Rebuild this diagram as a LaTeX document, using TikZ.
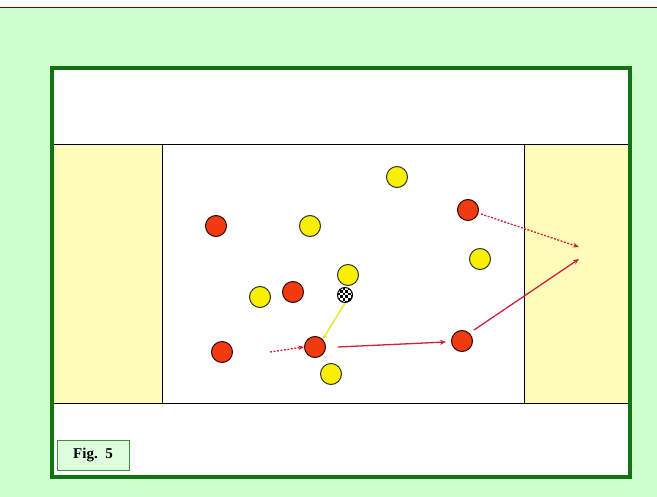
\documentclass[tikz,border=0pt]{standalone}
\usepackage{fontspec}
\setmainfont{Liberation Serif}
\usetikzlibrary{arrows.meta}
\definecolor{bggreen}{HTML}{CCFFCC}
\definecolor{framegreen}{HTML}{137313}
\definecolor{zoneyellow}{HTML}{FFFBB8}
\definecolor{redplayer}{HTML}{F03A10}
\definecolor{yelplayer}{HTML}{F8F000}
\definecolor{arrowred}{HTML}{D0203A}
\definecolor{passyellow}{HTML}{E8E830}
\definecolor{figfill}{HTML}{DDFFDD}
\tikzset{
  redp/.style={circle, draw=black!80!red, line width=1pt, fill=redplayer, minimum size=21pt, inner sep=0pt},
  yelp/.style={circle, draw=black!80, line width=1pt, fill=yelplayer, minimum size=21pt, inner sep=0pt},
  runarrow/.style={arrowred, line width=1.3pt, -{Stealth[length=6pt,width=5pt]}},
  rundots/.style={arrowred, line width=1.3pt, dash pattern=on 2pt off 1.5pt, -{Stealth[length=6pt,width=5pt]}},
  passarrow/.style={passyellow, line width=1.5pt, -{Stealth[length=5pt,width=4pt]}},
}
\begin{document}
\begin{tikzpicture}[x=1pt,y=-1pt]
\useasboundingbox (0,0) rectangle (657,497);
\fill[white] (0,0) rectangle (657,497);
\fill[bggreen] (0,8) rectangle (657,497);
\draw[red!50!black, line width=0.8pt] (0,7.5) -- (657,7.5);
% frame
\fill[white] (52,68) rectangle (630,477);
\fill[zoneyellow] (53,144) rectangle (162,403);
\fill[zoneyellow] (524,144) rectangle (628,403);
\draw[black, line width=0.8pt] (53,144) -- (628,144);
\draw[black, line width=0.8pt] (53,403) -- (628,403);
\draw[black, line width=0.8pt] (162,144) -- (162,403);
\draw[black, line width=0.8pt] (524,144) -- (524,403);
\draw[framegreen, line width=4.5pt] (52,68) rectangle (630,477);
% Fig label
\node[draw=framegreen!80, line width=0.8pt, fill=figfill, minimum width=72pt, minimum height=30pt, inner sep=0pt, font=\bfseries\fontsize{15}{17}\selectfont] (fig) at (93,455) {Fig.\ \ 5};
% players
\node[redp] (r1) at (216,226) {};
\node[redp] (r2) at (293,292) {};
\node[redp] (r3) at (222,352) {};
\node[redp] (r4) at (315,347) {};
\node[redp] (r5) at (468,210) {};
\node[redp] (r6) at (462,341) {};
\node[yelp] (y1) at (397,177) {};
\node[yelp] (y2) at (310,226) {};
\node[yelp] (y3) at (348,275) {};
\node[yelp] (y4) at (260,297) {};
\node[yelp] (y5) at (480,259) {};
\node[yelp] (y6) at (331,374) {};
% ball
\node[circle, minimum size=16pt, inner sep=0pt] (ball) at (345,295) {};
\begin{scope}
  \clip (345,295) circle (7.5);
  \fill[white] (337,287) rectangle (353,303);
  \foreach \i in {0,...,5}{
    \foreach \j in {0,...,5}{
      \pgfmathtruncatemacro{\chk}{mod(\i+\j,2)}
      \ifnum\chk=0
        \fill[black] (337+\i*2.8,287+\j*2.8) rectangle ++(2.8,2.8);
      \fi
    }
  }
\end{scope}
\draw[black, line width=1pt] (345,295) circle (7.5);
% arrows
\coordinate (d1) at (270,352);
\coordinate (g1) at (579,259);
\coordinate (g2) at (579,247);
\coordinate (s1) at (338,347);
\coordinate (e1) at (446,342);
\coordinate (s2) at (474,330);
\coordinate (s3) at (481,214);
\draw[rundots] (d1) -- (r4.west);
\draw[passarrow] (ball.south) -- (r4.north east);
\draw[runarrow] (s1) -- (e1);
\draw[runarrow] (s2) -- (g1);
\draw[rundots] (s3) -- (g2);
\end{tikzpicture}
\end{document}
